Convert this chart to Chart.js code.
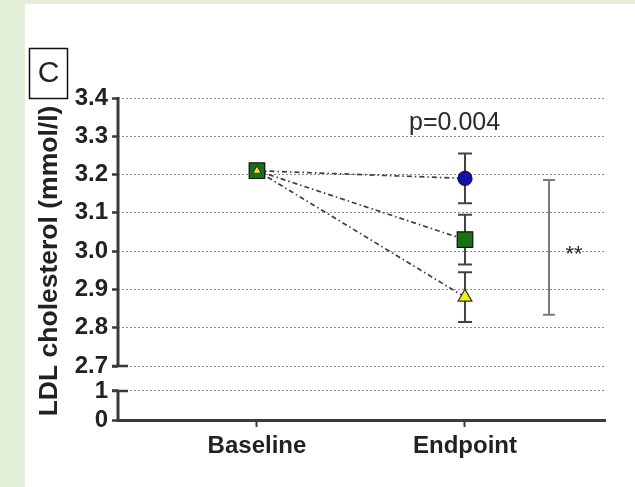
<!DOCTYPE html>
<html>
<head>
<meta charset="utf-8">
<script src="https://cdn.jsdelivr.net/npm/chart.js@4.4.1/dist/chart.umd.min.js"></script>
<style>
  html, body { margin: 0; padding: 0; background: #e2eed8; }
  #wrap { position: absolute; left: 25px; top: 4px; width: 610px; height: 483px; background: #fff; }
</style>
</head>
<body>
<div id="wrap"><canvas id="chart"></canvas></div>
<script>
// Data
const categories = ['Baseline', 'Endpoint'];
const groupNames = ['Group 1', 'Group 2', 'Group 3'];
const baselineValues = [3.21, 3.21, 3.21];
const endpointValues = [3.19, 3.03, 2.88];
const endpointErrors = [0.065, 0.065, 0.065];
const upperTicks = [2.7, 2.8, 2.9, 3.0, 3.1, 3.2, 3.3, 3.4];
const lowerTicks = [0, 1];
const bracketRange = [2.834, 3.186];
const pValueLabel = 'p=0.004';
const significanceLabel = '**';
const panelLabel = 'C';
const yTitle = 'LDL cholesterol (mmol/l)';

const FONT = '"Liberation Sans", Arial, sans-serif';
const AXIS_COLOR = '#3a3a3a';
const GRID_COLOR = '#8c8c8c';

// marker look per group (circle, square, triangle)
const markerStyles = [
    { pointStyle: 'circle', color: '#1212a6', border: '#0a0a60', radius: () => 7 },
    { pointStyle: 'rect', color: '#157315', border: '#111', radius: () => 11 },
    { pointStyle: 'triangle', color: '#f2ef1e', border: '#333', radius: (c) => c.dataIndex === 0 ? 5 : 8 }
];

const lineSets = baselineValues.map((b, i) => ({
    type: 'line',
    label: groupNames[i] + ' line',
    data: [{ x: 1, y: b }, { x: 2, y: endpointValues[i] }],
    borderColor: '#3f3f3f',
    borderWidth: 1.7,
    borderDash: [5, 3, 1.5, 3],
    pointRadius: 0,
    showLine: true,
    order: 10,
    yAxisID: 'y'
}));

const markerSets = baselineValues.map((b, i) => ({
    type: 'scatter',
    label: groupNames[i],
    data: [{ x: 1, y: b }, { x: 2, y: endpointValues[i] }],
    pointStyle: markerStyles[i].pointStyle,
    backgroundColor: markerStyles[i].color,
    borderColor: markerStyles[i].border,
    borderWidth: 1.2,
    pointRadius: markerStyles[i].radius,
    order: 3 - i,
    yAxisID: 'y'
}));

const decorations = {
    id: 'decorations',
    beforeDatasetsDraw(chart) {
        const { ctx, scales: { x, y } } = chart;
        ctx.save();
        ctx.strokeStyle = '#444';
        ctx.lineWidth = 2;
        endpointValues.forEach((v, i) => {
            const px = x.getPixelForValue(2);
            const top = y.getPixelForValue(v + endpointErrors[i]);
            const bot = y.getPixelForValue(v - endpointErrors[i]);
            ctx.beginPath();
            ctx.moveTo(px, top); ctx.lineTo(px, bot);
            ctx.moveTo(px - 7, top); ctx.lineTo(px + 7, top);
            ctx.moveTo(px - 7, bot); ctx.lineTo(px + 7, bot);
            ctx.stroke();
        });
        ctx.restore();
    },
    afterDraw(chart) {
        const { ctx, chartArea, scales: { x, y, yLow } } = chart;
        const left = chartArea.left;
        ctx.save();

        // broken y axis line
        ctx.strokeStyle = AXIS_COLOR;
        ctx.lineWidth = 3;
        ctx.beginPath();
        ctx.moveTo(left, y.getPixelForValue(upperTicks[upperTicks.length - 1]) - 1);
        ctx.lineTo(left, y.getPixelForValue(upperTicks[0]));
        ctx.moveTo(left, yLow.getPixelForValue(lowerTicks[1]));
        ctx.lineTo(left, yLow.getPixelForValue(lowerTicks[0]) + 1.5);
        ctx.stroke();
        // break marks
        ctx.lineWidth = 2.5;
        ctx.beginPath();
        [y.getPixelForValue(upperTicks[0]), yLow.getPixelForValue(lowerTicks[1])].forEach(py => {
            ctx.moveTo(left - 6, py);
            ctx.lineTo(left + 10, py);
        });
        ctx.stroke();

        // comparison bracket
        const bx = x.getPixelForValue(2.404);
        const bTop = y.getPixelForValue(bracketRange[1]);
        const bBot = y.getPixelForValue(bracketRange[0]);
        ctx.strokeStyle = '#7a7a7a';
        ctx.lineWidth = 2;
        ctx.beginPath();
        ctx.moveTo(bx, bTop); ctx.lineTo(bx, bBot);
        ctx.moveTo(bx - 6, bTop); ctx.lineTo(bx + 6, bTop);
        ctx.moveTo(bx - 6, bBot); ctx.lineTo(bx + 6, bBot);
        ctx.stroke();

        // texts
        ctx.fillStyle = '#2a2a2a';
        ctx.textAlign = 'center';
        ctx.textBaseline = 'middle';
        ctx.font = '25px ' + FONT;
        ctx.fillText(pValueLabel, x.getPixelForValue(1.95), y.getPixelForValue(3.335));
        ctx.font = '22px ' + FONT;
        ctx.fillText(significanceLabel, x.getPixelForValue(2.524), y.getPixelForValue(2.99));

        // panel letter
        ctx.strokeStyle = '#111';
        ctx.lineWidth = 1.5;
        ctx.strokeRect(4.5, 44.5, 38, 50);
        ctx.fillStyle = '#222';
        ctx.font = '30px ' + FONT;
        ctx.fillText(panelLabel, 23.5, 70);

        // y title spanning both axis parts
        ctx.save();
        ctx.translate(25, (chartArea.top + chartArea.bottom) / 2 + 2);
        ctx.rotate(-Math.PI / 2);
        ctx.font = 'bold 26.5px ' + FONT;
        ctx.fillText(yTitle, 0, 0);
        ctx.restore();

        ctx.restore();
    }
};

const tickFont = { family: FONT, size: 24, weight: 'bold' };

new Chart(document.getElementById('chart'), {
    type: 'scatter',
    data: { datasets: [...lineSets, ...markerSets] },
    options: {
        responsive: true,
        maintainAspectRatio: false,
        animation: false,
        layout: { padding: { top: 94, right: 30, left: 0, bottom: 0 } },
        plugins: {
            legend: { display: false },
            tooltip: { enabled: false }
        },
        scales: {
            x: {
                type: 'linear',
                min: 0.332,
                max: 2.673,
                afterBuildTicks: (s) => { s.ticks = categories.map((c, i) => ({ value: i + 1 })); },
                afterFit: (s) => { s.height = 67; },
                ticks: {
                    callback: (v) => categories[v - 1],
                    font: tickFont,
                    color: '#222',
                    padding: 5,
                    maxRotation: 0,
                    autoSkip: false
                },
                grid: { drawOnChartArea: false, tickLength: 7, tickColor: AXIS_COLOR, tickWidth: 2 },
                border: { display: true, color: AXIS_COLOR, width: 3 }
            },
            yLow: {
                type: 'linear',
                position: 'left',
                stack: 'yaxis',
                stackWeight: 54,
                weight: 1,
                min: 0,
                max: 1.86,
                afterBuildTicks: (s) => { s.ticks = lowerTicks.map(v => ({ value: v })); },
                afterFit: (s) => { s.width = 93; },
                ticks: { callback: (v) => String(v), font: tickFont, color: '#222', padding: 4, autoSkip: false },
                grid: {
                    color: (c) => c.tick && c.tick.value === 0 ? 'rgba(0,0,0,0)' : GRID_COLOR,
                    lineWidth: 1,
                    tickLength: 6,
                    tickColor: AXIS_COLOR,
                    tickWidth: 2.5
                },
                border: { display: false, dash: [2, 2] }
            },
            y: {
                type: 'linear',
                position: 'left',
                stack: 'yaxis',
                stackWeight: 268,
                weight: 2,
                min: 2.7,
                max: 3.4,
                afterBuildTicks: (s) => { s.ticks = upperTicks.map(v => ({ value: v })); },
                afterFit: (s) => { s.width = 93; },
                ticks: { callback: (v) => v.toFixed(1), font: tickFont, color: '#222', padding: 4, autoSkip: false },
                grid: {
                    color: GRID_COLOR,
                    lineWidth: 1,
                    tickLength: 6,
                    tickColor: AXIS_COLOR,
                    tickWidth: 2.5
                },
                border: { display: false, dash: [2, 2] }
            }
        }
    },
    plugins: [decorations]
});
</script>
</body>
</html>
